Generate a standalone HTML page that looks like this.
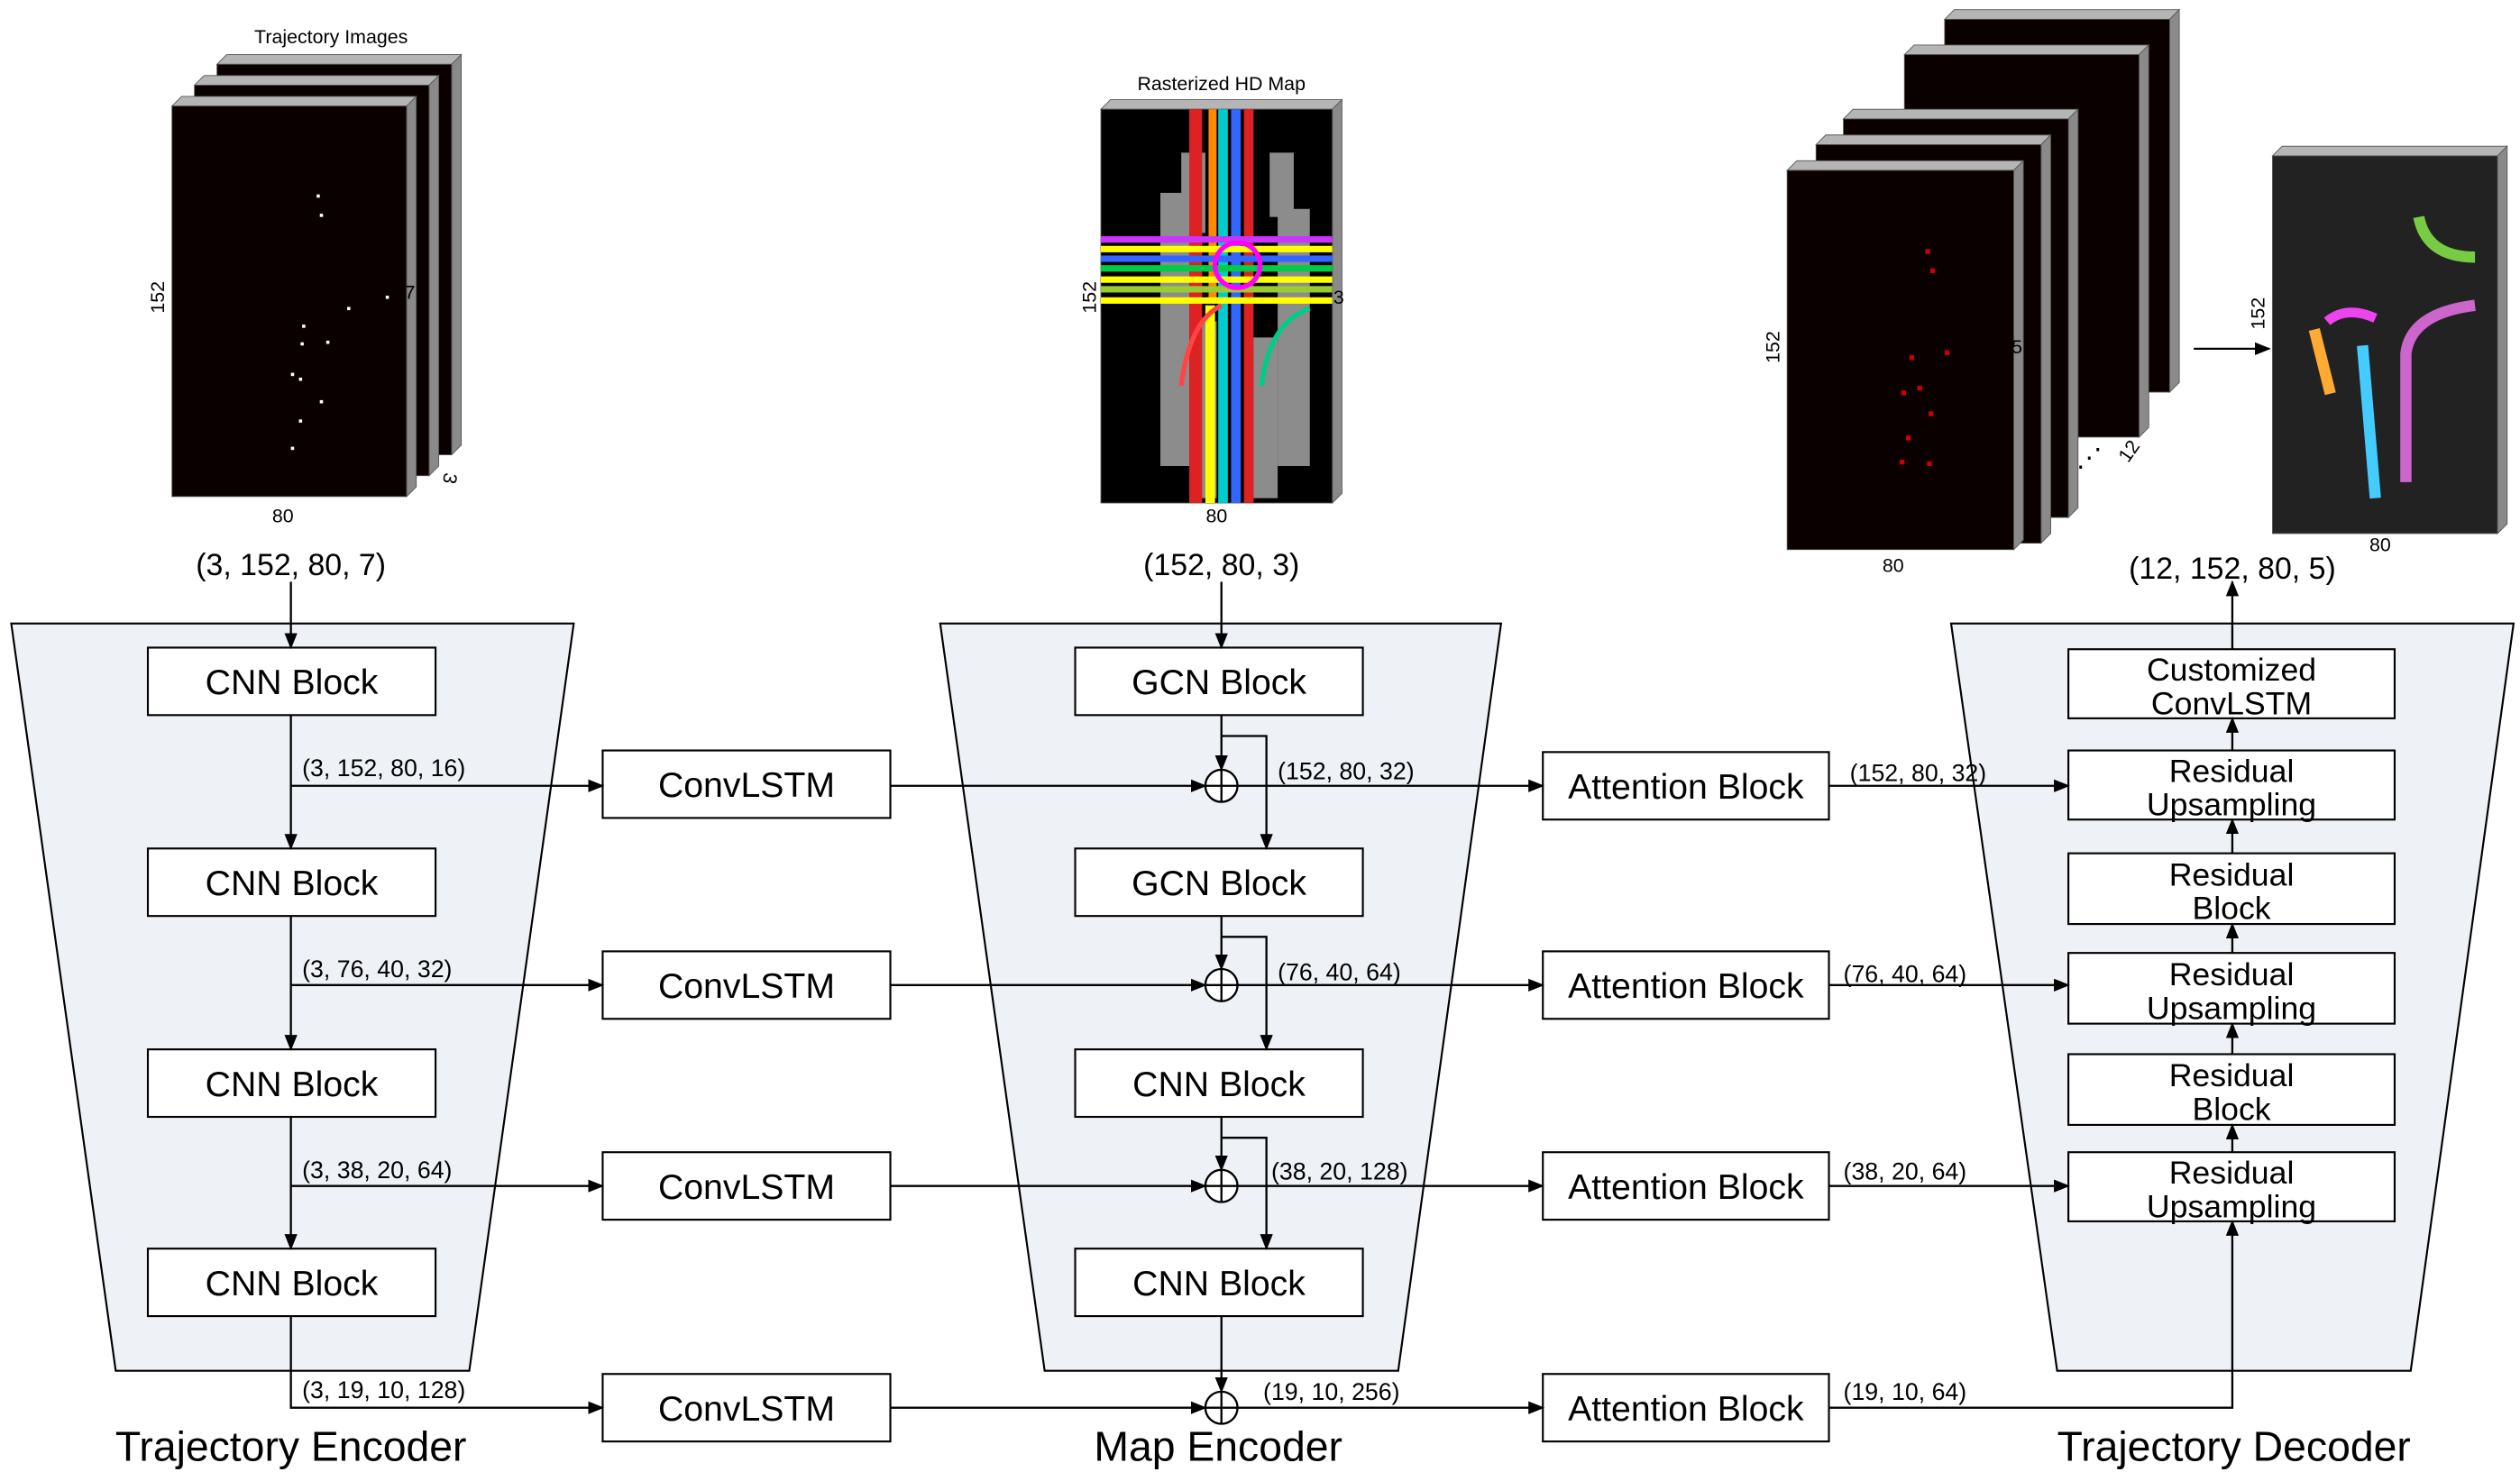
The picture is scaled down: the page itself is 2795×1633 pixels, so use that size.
<!DOCTYPE html>
<html><head><meta charset="utf-8"><style>
html,body{margin:0;padding:0;background:#fff;}
svg{display:block;font-family:"Liberation Sans",Arial,sans-serif;}
</style></head><body>
<svg width="2795" height="1633" viewBox="0 0 1568 916" preserveAspectRatio="none" xmlns="http://www.w3.org/2000/svg">
<defs>
<marker id="ah" markerWidth="10" markerHeight="8" refX="9" refY="4" orient="auto" markerUnits="userSpaceOnUse"><path d="M0,0 L10,4 L0,8 Z" fill="#000"/></marker>
</defs>
<rect width="1568" height="916" fill="#fff"/>

<polygon points="7,388 357,388 292,853 72,853" fill="#eef1f6" stroke="#000" stroke-width="1.2"/>
<polygon points="585,388 934,388 870,853 650,853" fill="#eef1f6" stroke="#000" stroke-width="1.2"/>
<polygon points="1214,388 1564,388 1500,853 1280,853" fill="#eef1f6" stroke="#000" stroke-width="1.2"/>

<g id="images"></g>
<g id="boxes" font-size="22" text-anchor="middle"></g>
<g id="lines" stroke="#000" stroke-width="1.3" fill="none"></g>
<g id="labels" font-size="15"></g>

<text x="181" y="358" font-size="19" text-anchor="middle">(3, 152, 80, 7)</text>
<text x="760" y="358" font-size="19" text-anchor="middle">(152, 80, 3)</text>
<text x="1389" y="360" font-size="19" text-anchor="middle">(12, 152, 80, 5)</text>
<text x="181" y="909" font-size="26" text-anchor="middle">Trajectory Encoder</text>
<text x="758" y="909" font-size="26" text-anchor="middle">Map Encoder</text>
<text x="1390" y="909" font-size="26" text-anchor="middle">Trajectory Decoder</text>
</svg>
<script>
const NS="http://www.w3.org/2000/svg";
function mk(parent,tag,attrs,txt){const e=document.createElementNS(NS,tag);for(const k in attrs)e.setAttribute(k,attrs[k]);if(txt!==undefined)e.textContent=txt;parent.appendChild(e);return e;}
const boxes=document.getElementById('boxes'),lines=document.getElementById('lines'),labels=document.getElementById('labels'),imgs=document.getElementById('images');

function box(x,y,w,h,t,name){
  const g=mk(boxes,'g',{});
  
  
  mk(g,'rect',{x:x,y:y,width:w,height:h,fill:'#fff',stroke:'#000','stroke-width':1.2});
  const parts=t.split('\n');
  if(parts.length===1) mk(g,'text',{x:x+w/2,y:y+h/2+8},t);
  else {mk(g,'text',{x:x+w/2,y:y+h/2-2,'font-size':20},parts[0]);mk(g,'text',{x:x+w/2,y:y+h/2+19,'font-size':20},parts[1]);}
}
function ln(pts,arrow){const p=mk(lines,'polyline',{points:pts.map(a=>a.join(',')).join(' ')});if(arrow)p.setAttribute('marker-end','url(#ah)');return p;}
function lab(x,y,t,name){const e=mk(labels,'text',{x:x,y:y},t);}

const encY=[403,528,653,777];
encY.forEach((y,i)=>box(92,y,179,42,'CNN Block','trajectory-cnn-block-'+(i+1)));
const lstmY=[467,592,717,855];
lstmY.forEach((y,i)=>box(375,y,179,42,'ConvLSTM','convlstm-'+(i+1)));
const mapNames=['GCN Block','GCN Block','CNN Block','CNN Block'];
encY.forEach((y,i)=>box(669,y,179,42,mapNames[i],'map-block-'+(i+1)));
const attY=[468,592,717,855];
attY.forEach((y,i)=>box(960,y,178,42,'Attention Block','attention-block-'+(i+1)));
const dec=[[404,43,'Customized\nConvLSTM'],[467,43,'Residual\nUpsampling'],[531,44,'Residual\nBlock'],[593,44,'Residual\nUpsampling'],[656,44,'Residual\nBlock'],[717,43,'Residual\nUpsampling']];
dec.forEach((d,i)=>box(1287,d[0],203,d[1],d[2],'decoder-block-'+(i+1)));

ln([[181,362],[181,403]],1);
const branchY=[489,613,738];
for(let i=0;i<3;i++){ln([[181,encY[i]+42],[181,encY[i+1]]],1);ln([[181,branchY[i]],[375,branchY[i]]],1);}
ln([[181,819],[181,876],[375,876]],1);
const encLab=['(3, 152, 80, 16)','(3, 76, 40, 32)','(3, 38, 20, 64)','(3, 19, 10, 128)'];
[483,608,733,870].forEach((y,i)=>lab(188,y,encLab[i],'encoder-shape-'+(i+1)));

ln([[760,362],[760,403]],1);
const plusY=[489,613,738,876];
plusY.forEach((py,i)=>{
  ln([[554,py],[750,py]],1);
  const c=mk(lines,'circle',{cx:760,cy:py,r:10,fill:'#fff'});
  
  
  mk(lines,'line',{x1:750,y1:py,x2:770,y2:py});
  mk(lines,'line',{x1:760,y1:py-10,x2:760,y2:py+10});
  ln([[760,encY[i]+42],[760,py-10]],1);
  if(i<3){ln([[760,encY[i]+55],[788,encY[i]+55],[788,encY[i+1]]],1);}
  ln([[770,py],[960,py]],1);
});
const mapLab=['(152, 80, 32)','(76, 40, 64)','(38, 20, 128)','(19, 10, 256)'];
[[795,485],[795,610],[791,734],[786,871]].forEach((p,i)=>lab(p[0],p[1],mapLab[i],'map-shape-'+(i+1)));

[489,613,738].forEach(y=>ln([[1138,y],[1287,y]],1));
ln([[1138,876],[1389,876],[1389,760]],1);
const attLab=['(152, 80, 32)','(76, 40, 64)','(38, 20, 64)','(19, 10, 64)'];
[[1151,486],[1147,611],[1147,734],[1147,871]].forEach((p,i)=>lab(p[0],p[1],attLab[i],'attention-shape-'+(i+1)));
for(let i=dec.length-1;i>0;i--){ln([[1389,dec[i][0]],[1389,dec[i-1][0]+dec[i-1][1]]],1);}
ln([[1389,404],[1389,362]],1);
ln([[1365,217],[1412,217]],1);

function layer(x,y,w,h,fill,name){
  const g=mk(imgs,'g',{});
  
  
  const d=6;
  mk(g,'polygon',{points:`${x},${y} ${x+d},${y-d} ${x+w+d},${y-d} ${x+w},${y}`,fill:'#b5b5b5',stroke:'#555','stroke-width':0.5});
  mk(g,'polygon',{points:`${x+w},${y} ${x+w+d},${y-d} ${x+w+d},${y+h-d} ${x+w},${y+h}`,fill:'#8a8a8a',stroke:'#555','stroke-width':0.5});
  mk(g,'rect',{x:x,y:y,width:w,height:h,fill:fill,stroke:'#555','stroke-width':0.5});
  return g;
}
layer(135,40,146,243,'#0a0000','traj-layer-3');
layer(121,53,146,243,'#0a0000','traj-layer-2');
const g1=layer(107,66,146,243,'#0a0000','traj-layer-1');
const dots=[[197,121],[199,133],[216,191],[240,184],[188,202],[187,213],[203,212],[181,232],[186,235],[199,249],[186,261],[181,278]];
dots.forEach(d=>mk(g1,'rect',{x:d[0],y:d[1],width:2,height:2,fill:'#fff'}));
mk(imgs,'text',{x:206,y:27,'font-size':12,'text-anchor':'middle'},'Trajectory Images');
mk(imgs,'text',{x:176,y:325,'font-size':12,'text-anchor':'middle'},'80');
mk(imgs,'text',{x:0,y:0,'font-size':12,'text-anchor':'middle',transform:'translate(102,185) rotate(-90)'},'152');
mk(imgs,'text',{x:255,y:186,'font-size':12,'text-anchor':'middle'},'7');
mk(imgs,'text',{x:0,y:0,'font-size':12,'text-anchor':'middle',transform:'translate(276,297) rotate(100)'},'3');

const gm=layer(685,68,144,245,'#000','hd-map');
[[722,120,18,170],[795,130,20,160],[735,95,15,50],[790,95,15,40],[745,200,12,110],[775,210,20,100]].forEach(r=>mk(gm,'rect',{x:r[0],y:r[1],width:r[2],height:r[3],fill:'#8c8c8c'}));
[[740,68,8,245,'#d22'],[750,190,6,123,'#ff0'],[758,68,6,245,'#0cc'],[766,68,6,245,'#36f'],[774,68,6,245,'#d22'],[752,68,5,120,'#f80']].forEach(r=>mk(gm,'rect',{x:r[0],y:r[1],width:r[2],height:r[3],fill:r[4]}));
[[147,'#c3f'],[153,'#ff0'],[159,'#36f'],[165,'#0c4'],[172,'#ff0'],[178,'#9c3'],[185,'#ff0']].forEach(r=>mk(gm,'rect',{x:685,y:r[0],width:144,height:4,fill:r[1]}));
mk(gm,'circle',{cx:770,cy:165,r:14,fill:'none',stroke:'#f0f','stroke-width':3});
mk(gm,'path',{d:'M735,240 Q740,200 760,190',stroke:'#f44','stroke-width':3,fill:'none'});
mk(gm,'path',{d:'M785,240 Q790,200 815,192',stroke:'#0c8','stroke-width':3,fill:'none'});
mk(imgs,'text',{x:760,y:56,'font-size':12,'text-anchor':'middle'},'Rasterized HD Map');
mk(imgs,'text',{x:757,y:325,'font-size':12,'text-anchor':'middle'},'80');
mk(imgs,'text',{x:0,y:0,'font-size':12,'text-anchor':'middle',transform:'translate(682,185) rotate(-90)'},'152');
mk(imgs,'text',{x:833,y:189,'font-size':12,'text-anchor':'middle'},'3');

layer(1210,12,140,232,'#0a0000','output-layer-5');
layer(1185,34,146,238,'#0a0000','output-layer-4');
layer(1147,74,140,248,'#0a0000','output-layer-3');
layer(1130,90,140,248,'#0a0000','output-layer-2');
const go=layer(1112,106,141,236,'#0a0000','output-layer-1');
[[1198,155],[1201,167],[1210,218],[1188,221],[1193,240],[1183,243],[1200,256],[1186,271],[1182,286],[1199,287]].forEach(d=>mk(go,'rect',{x:d[0],y:d[1],width:3,height:3,fill:'#c00'}));
mk(imgs,'text',{x:1178,y:356,'font-size':12,'text-anchor':'middle'},'80');
mk(imgs,'text',{x:0,y:0,'font-size':12,'text-anchor':'middle',transform:'translate(1107,216) rotate(-90)'},'152');
mk(imgs,'text',{x:1255,y:220,'font-size':12,'text-anchor':'middle'},'5');
mk(imgs,'text',{x:1300,y:290,'font-size':16,'text-anchor':'middle'},'⋰');
mk(imgs,'text',{x:0,y:0,'font-size':12,'text-anchor':'middle',transform:'translate(1328,283) rotate(-55)'},'12');
const gp=layer(1414,97,140,235,'#222','prediction-image');
mk(gp,'path',{d:'M1505,135 Q1510,160 1540,160',stroke:'#7c4','stroke-width':7,fill:'none'});
mk(gp,'path',{d:'M1497,300 L1497,220 Q1500,195 1540,190',stroke:'#c6c','stroke-width':7,fill:'none'});
mk(gp,'path',{d:'M1470,215 L1478,310',stroke:'#4cf','stroke-width':7,fill:'none'});
mk(gp,'path',{d:'M1440,205 L1450,245',stroke:'#fa3','stroke-width':7,fill:'none'});
mk(gp,'path',{d:'M1448,200 Q1460,190 1478,198',stroke:'#e4e','stroke-width':6,fill:'none'});
mk(imgs,'text',{x:1481,y:343,'font-size':12,'text-anchor':'middle'},'80');
mk(imgs,'text',{x:0,y:0,'font-size':12,'text-anchor':'middle',transform:'translate(1409,195) rotate(-90)'},'152');
</script>
</body></html>
